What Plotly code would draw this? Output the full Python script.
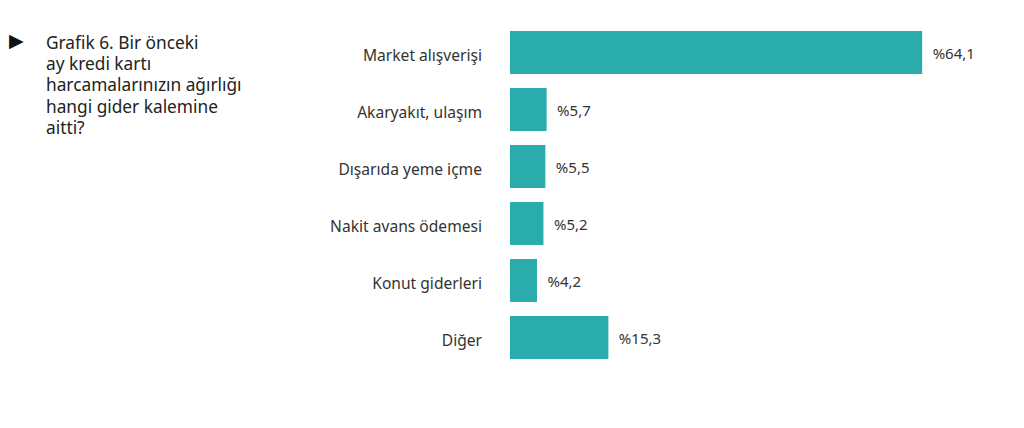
import plotly.graph_objects as go

categories = ["Market alışverişi", "Akaryakıt, ulaşım", "Dışarıda yeme içme",
              "Nakit avans ödemesi", "Konut giderleri", "Diğer"]
values = [64.1, 5.7, 5.5, 5.2, 4.2, 15.3]
value_labels = ["\u2009\u2009\u2009%" + f"{v:.1f}".replace(".", ",") for v in values]
title_lines = ["Grafik 6. Bir önceki", "ay kredi kartı", "harcamalarınızın ağırlığı",
               "hangi gider kalemine", "aitti?"]

FONT = "Noto Sans"
OFF = 8  # page body margin
W, H = 1016, 420
L, R, T = 510 - OFF, 20, 24 - OFF
B = H - (366 - OFF)
PW, PH = W - L - R, H - T - B

def px(x):
    return (x - OFF - L) / PW

def py(y):
    return (H - B - (y - OFF)) / PH

fig = go.Figure(go.Bar(
    x=values, y=categories, orientation="h",
    marker=dict(color="#2aacac", line=dict(width=0)),
    text=value_labels, textposition="outside",
    textfont=dict(family=FONT, size=15, color="#333333"),
    cliponaxis=False, hoverinfo="skip",
))

annotations = [
    dict(x=px(7), y=py(40), xref="paper", yref="paper", text="▶",
         showarrow=False, xanchor="left", yanchor="middle",
         font=dict(family="DejaVu Sans", size=19, color="#111111")),
]
line_centers = [42, 63.5, 85, 106, 127.5]
for line, yc in zip(title_lines, line_centers):
    annotations.append(dict(
        x=px(44), y=py(yc), xref="paper", yref="paper", text=line,
        showarrow=False, xanchor="left", yanchor="middle", align="left",
        font=dict(family=FONT, size=17.3, color="#222222")))

fig.update_layout(
    width=W, height=H,
    margin=dict(l=L, r=R, t=T, b=B, autoexpand=False),
    paper_bgcolor="white", plot_bgcolor="white",
    showlegend=False, bargap=0.246,
    font=dict(family=FONT, color="#333333"),
    xaxis=dict(range=[0, PW / 6.43], visible=False, showgrid=False, zeroline=False),
    yaxis=dict(autorange="reversed", showgrid=False, zeroline=False, showline=False,
               ticks="", ticklabelstandoff=27, ticklabelshift=-3,
               tickfont=dict(family=FONT, size=15.6, color="#333333")),
    annotations=annotations,
)

fig.write_html("out.html")
